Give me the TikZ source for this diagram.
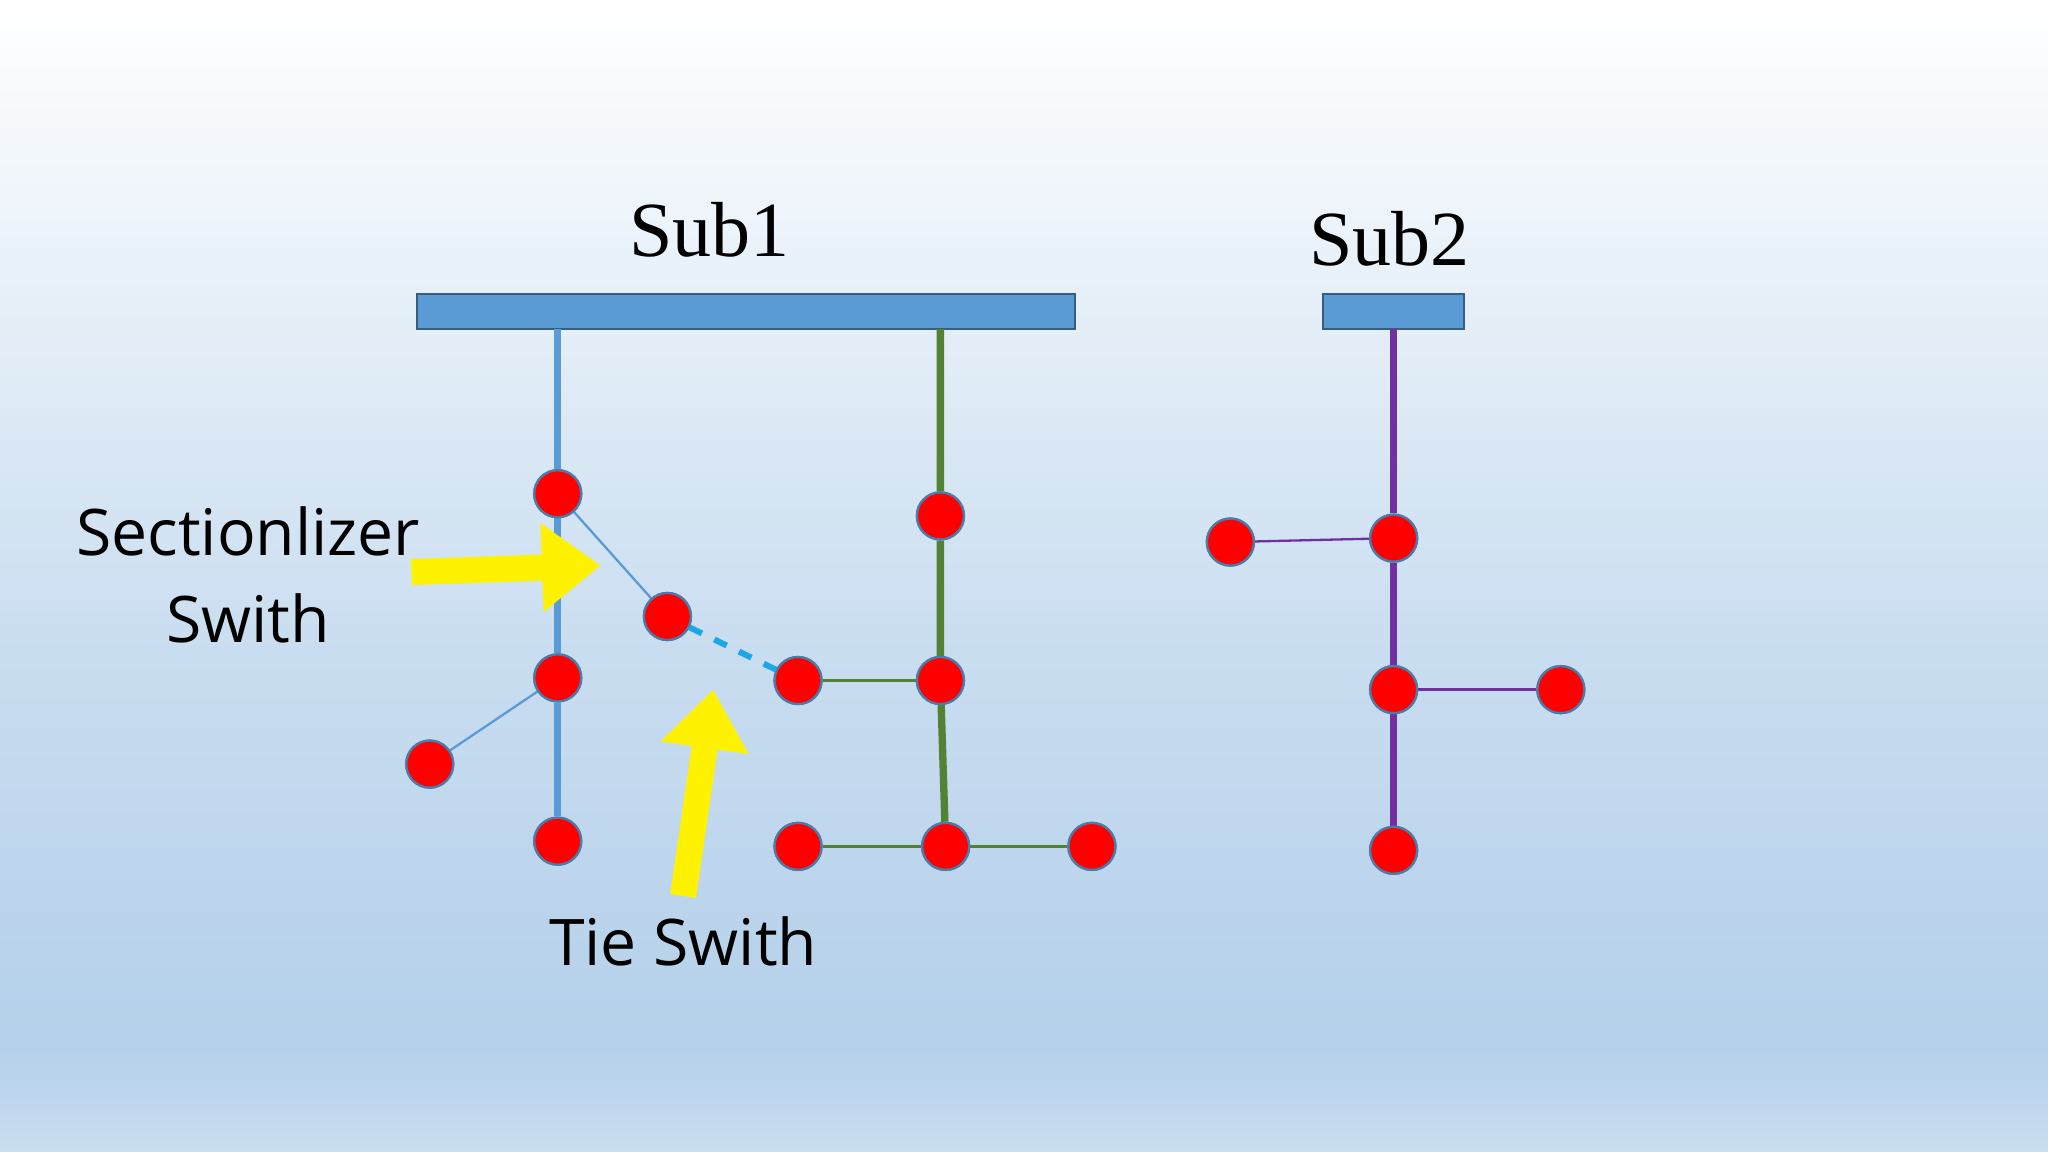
\documentclass[tikz,border=0pt]{standalone}
\usepackage{fontspec}
\setmainfont{Liberation Serif}
\newfontfamily\labfont{Open Sans}
\usetikzlibrary{arrows.meta}
\definecolor{barblue}{HTML}{5B9BD5}
\definecolor{lblue}{HTML}{5B9BD5}
\definecolor{gr}{HTML}{548235}
\definecolor{pu}{HTML}{7030A0}
\definecolor{bgtop}{HTML}{FFFFFF}
\definecolor{bgmid}{HTML}{C9DDF0}
\definecolor{bgbot}{HTML}{B4D0EA}
\definecolor{tie}{HTML}{1CA8E8}
\begin{document}
\begin{tikzpicture}[x=0.1mm,y=-0.1mm,
  sw/.style={circle,fill=red,draw=lblue!80!black,line width=0.5pt,minimum size=3.6mm,inner sep=0pt},
  bar/.style={fill=barblue,draw=barblue!60!black,line width=0.5pt},
  thinl/.style={line width=0.5pt},
  yarrow/.style={yellow,line width=2mm,-{Triangle[length=4.5mm,width=6.5mm]}},
  lab/.style={font=\labfont\fontsize{14}{19}\selectfont,align=center},
  sub/.style={font=\fontsize{17}{20}\selectfont}]
\shade[top color=bgtop,bottom color=bgmid] (0,0) rectangle (1568,500);
\shade[top color=bgmid,bottom color=bgbot] (0,500) rectangle (1568,800);
\shade[top color=bgbot,bottom color=bgmid] (0,800) rectangle (1568,882);
\useasboundingbox (0,0) rectangle (1568,882);
\node[sub] (t1) at (543,176) {Sub1};
\node[sub] (t2) at (1064,183) {Sub2};
\draw[bar] (319,225) rectangle (823,252);
\draw[bar] (1013,225) rectangle (1121,252);
\coordinate (b1) at (427,252);
\coordinate (b2) at (720,252);
\coordinate (b3) at (1067,252);
\node[sw] (a1) at (427,378) {};
\node[sw] (a2) at (511,472) {};
\node[sw] (a3) at (427,519) {};
\node[sw] (a4) at (329,585) {};
\node[sw] (a5) at (427,644) {};
\node[sw] (g1) at (720,395) {};
\node[sw] (g0) at (611,521) {};
\node[sw] (g2) at (720,521) {};
\node[sw] (g3) at (611,648) {};
\node[sw] (g4) at (724,648) {};
\node[sw] (g5) at (836,648) {};
\node[sw] (p0) at (942,415) {};
\node[sw] (p1) at (1067,412) {};
\node[sw] (p2) at (1067,528) {};
\node[sw] (p3) at (1195,528) {};
\node[sw] (p4) at (1067,651) {};
\begin{scope}[on background layer/.style={}]
\end{scope}
\draw[lblue,line width=1.6pt] (b1) -- (a1) -- (a3) -- (a5);
\draw[gr,line width=1.6pt] (b2) -- (g1) -- (g2) -- (g4);
\draw[pu,line width=1.6pt] (b3) -- (p1) -- (p2) -- (p4);
\draw[lblue,thinl] (a1) -- (a2);
\draw[lblue,thinl] (a3) -- (a4);
\draw[tie,line width=1.3pt,dashed] (a2) -- (g0);
\draw[gr,thinl] (g0) -- (g2);
\draw[gr,thinl] (g3) -- (g4) -- (g5);
\draw[pu,thinl] (p0) -- (p1);
\draw[pu,thinl] (p2) -- (p3);
\foreach \n in {a1,a2,a3,a4,a5,g0,g1,g2,g3,g4,g5,p0,p1,p2,p3,p4}
  \node[sw] at (\n) {};
\node[lab] (ls) at (190,440) {Sectionlizer\\Swith};
\node[lab] (lt) at (523,721) {Tie Swith};
\coordinate (s1) at (315,438);
\coordinate (s2) at (460,433);
\coordinate (u1) at (523,686);
\coordinate (u2) at (546,528);
\draw[yarrow] (s1) -- (s2);
\draw[yarrow] (u1) -- (u2);
\end{tikzpicture}
\end{document}
